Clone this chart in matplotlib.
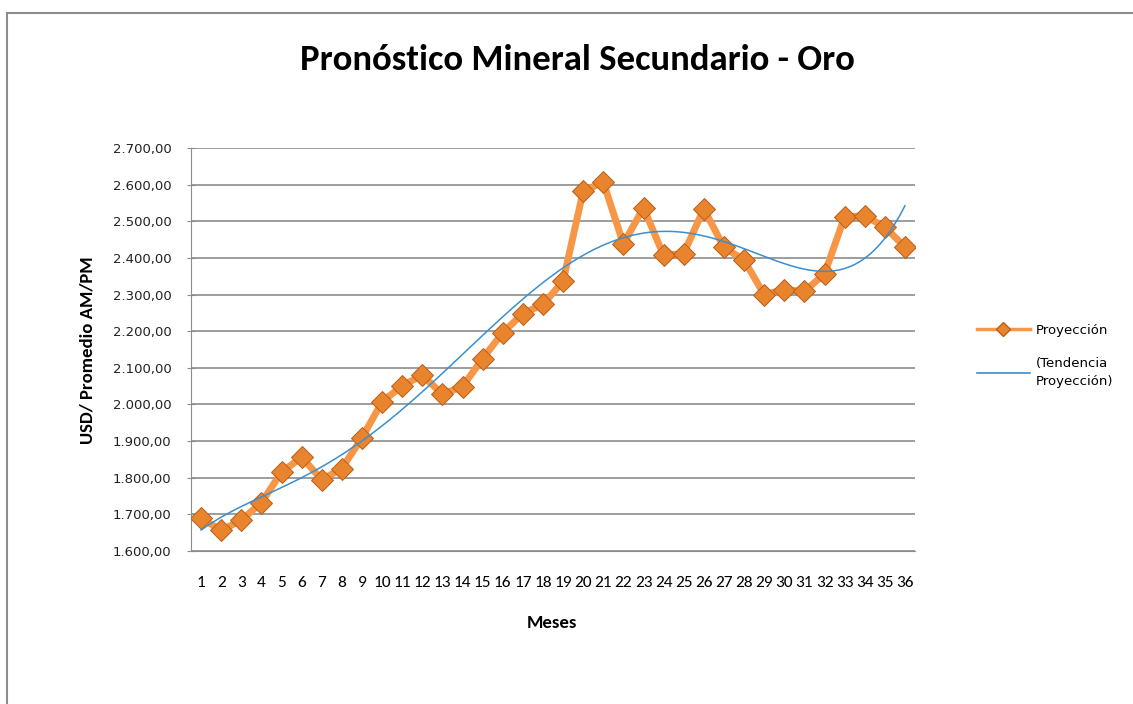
import numpy as np
import matplotlib
matplotlib.use("Agg")
import matplotlib.pyplot as plt
from matplotlib.lines import Line2D
from matplotlib.ticker import FuncFormatter, MultipleLocator

CAL = ['Carlito', 'Open Sans', 'DejaVu Sans']
TAH = ['DejaVu Sans']
plt.rcParams['font.family'] = CAL

meses = list(range(1, 37))
proyeccion = [1690, 1656, 1684, 1732, 1815, 1856, 1795, 1825, 1909, 2007,
              2051, 2080, 2028, 2049, 2125, 2196, 2248, 2273, 2336, 2582,
              2607, 2438, 2537, 2407, 2412, 2534, 2429, 2394, 2300, 2313,
              2309, 2356, 2512, 2515, 2484, 2430]
grado_tendencia = 5
titulo = "Pronóstico Mineral Secundario - Oro"
etiqueta_y = "USD/ Promedio AM/PM"
etiqueta_x = "Meses"
serie_nombre = "Proyección"
tendencia_nombre = "(Tendencia\nProyección)"

x = np.array(meses, dtype=float)
y = np.array(proyeccion, dtype=float)
coef = np.polyfit(x, y, grado_tendencia)
xs = np.linspace(1, 36, 400)
ys = np.polyval(coef, xs)

fig = plt.figure(figsize=(11.33, 7.04), dpi=100)
ax = fig.add_axes([191/1133, 1-551/704, 724/1133, 403/704])

ax.plot(x, y, color='#F79646', lw=5, zorder=3, solid_joinstyle='round')
ax.plot(x, y, ls='none', marker='D', ms=11.5, mfc='#E8842E', mec='#B85E18', mew=0.7, zorder=4)
ax.plot(xs, ys, color='#3A8FD0', lw=1.1, zorder=5)

ax.set_xlim(0.5, 36.5)
ax.set_ylim(1600, 2700)
ax.yaxis.set_major_locator(MultipleLocator(100))
def fmt(v, p):
    s = f"{v:,.2f}"
    return s.replace(",", "X").replace(".", ",").replace("X", ".")
ax.yaxis.set_major_formatter(FuncFormatter(fmt))
ax.set_xticks(meses)
ax.set_xticklabels([str(m) for m in meses])
for lab in ax.get_yticklabels():
    lab.set_family(TAH)
ax.grid(axis='y', color='#8C8C8C', lw=1.2)
ax.set_axisbelow(True)
for s in ['top', 'right']:
    ax.spines[s].set_visible(False)
ax.spines['left'].set_color('#8C8C8C')
ax.spines['bottom'].set_color('#8C8C8C')
ax.tick_params(axis='y', colors='#8C8C8C', labelcolor='#222222', labelsize=9.5, length=6,
               direction='inout', pad=11)
ax.tick_params(axis='x', length=0, labelsize=12.5, pad=18)

fig.text(577/1133, 1-60/704, titulo, ha='center', va='center', fontsize=26.5, fontweight='bold')
fig.text(88/1133, 1-350/704, etiqueta_y, ha='center', va='center', rotation=90, fontsize=13.5, fontweight='bold')
fig.text(552/1133, 1-623/704, etiqueta_x, ha='center', va='center', fontsize=13.5, fontweight='bold')

h1 = Line2D([], [], color='#F79646', lw=2.5, marker='D', ms=7, mfc='#E8842E', mec='#B85E18')
h2 = Line2D([], [], color='#3A8FD0', lw=1.2)
leg = fig.legend([h1, h2], [serie_nombre, tendencia_nombre], loc='upper left',
                 bbox_to_anchor=(965/1133, 1-312/704), frameon=False, prop={'family': TAH, 'size': 9.5},
                 handlelength=4.0, labelspacing=1.5, handletextpad=0.45)
for t in leg.get_texts():
    t.set_linespacing(1.5)

fig.add_artist(Line2D([7/1133, 1], [1-13/704, 1-13/704], color='#8C8C8C', lw=1.5))
fig.add_artist(Line2D([7/1133, 7/1133], [0, 1-13/704], color='#8C8C8C', lw=1.5))

fig.savefig('out.png', dpi=100)
